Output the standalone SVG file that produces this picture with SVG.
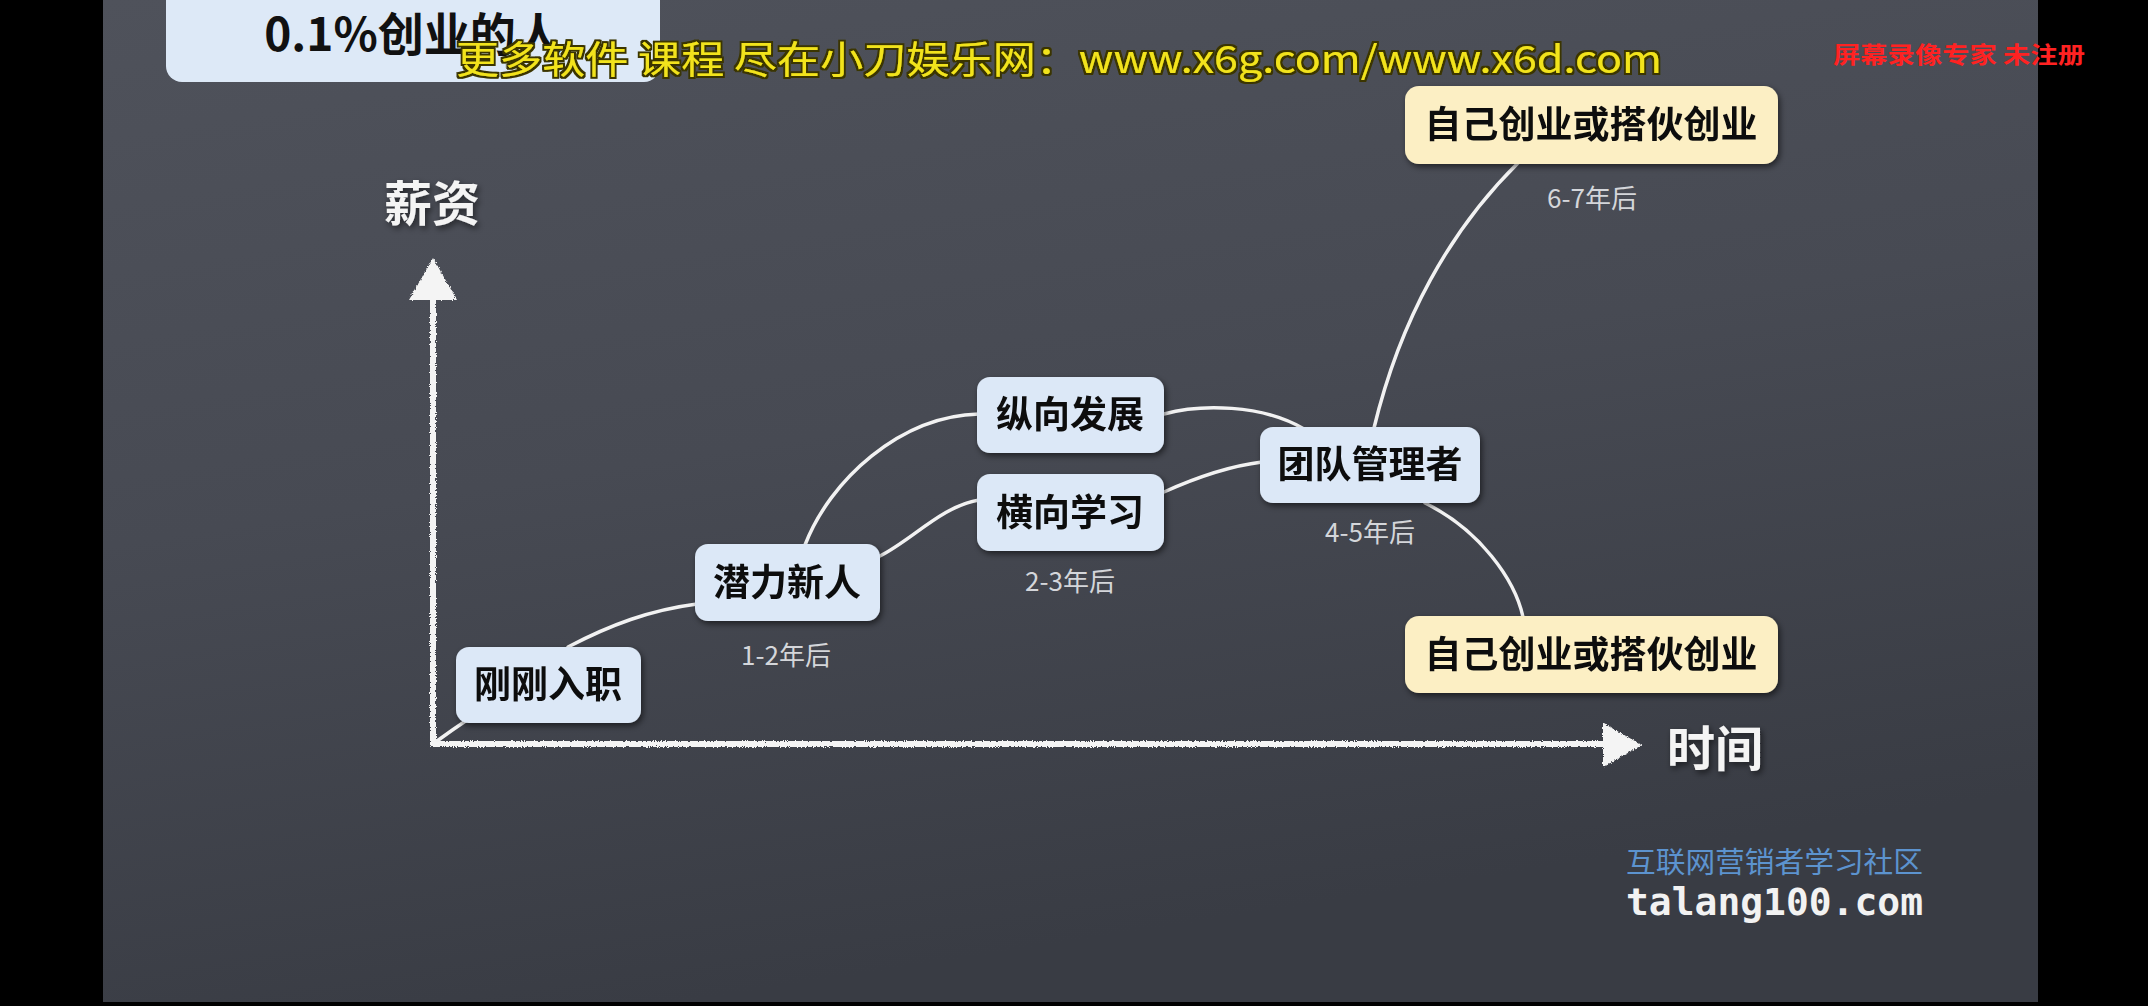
<svg xmlns="http://www.w3.org/2000/svg" width="2148" height="1006" viewBox="0 0 2148 1006">
  <defs>
    <linearGradient id="board" x1="0" y1="0" x2="0.3" y2="1">
      <stop offset="0" stop-color="#4f525b"/>
      <stop offset="0.5" stop-color="#474a53"/>
      <stop offset="1" stop-color="#393c44"/>
    </linearGradient>
    <filter id="chalk" x="-5%" y="-5%" width="110%" height="110%">
      <feTurbulence type="fractalNoise" baseFrequency="0.9" numOctaves="2" seed="3" result="n"/>
      <feDisplacementMap in="SourceGraphic" in2="n" scale="4" xChannelSelector="R" yChannelSelector="G"/>
    </filter>
    <filter id="shadow" x="-10%" y="-20%" width="130%" height="150%">
      <feDropShadow dx="2" dy="3" stdDeviation="3" flood-color="#000" flood-opacity="0.55"/>
    </filter>
    <filter id="wmk" x="-2%" y="-20%" width="104%" height="150%">
      <feMorphology in="SourceAlpha" operator="dilate" radius="1.5" result="d"/>
      <feFlood flood-color="#3a3400"/>
      <feComposite in2="d" operator="in" result="o"/>
      <feMerge><feMergeNode in="o"/><feMergeNode in="SourceGraphic"/></feMerge>
    </filter>
  </defs>
  <style>
    .cjk { font-family: "Noto Sans CJK SC", "Noto Sans", sans-serif; }
    .node rect { fill: #dce8f7; }
    .node.gold rect { fill: #fcefc4; }
    .node text { font-family: "Noto Sans CJK SC", "Noto Sans", sans-serif; font-size: 37px; font-weight: 700; fill: #111; text-anchor: middle; }
    .note { font-family: "Noto Sans CJK SC", "Noto Sans", sans-serif; font-size: 26px; fill: #d4d6da; text-anchor: middle; }
    .axislbl { font-family: "Noto Sans CJK SC", "Noto Sans", sans-serif; font-size: 48px; font-weight: 700; fill: #f4f4f4; }
    .conn path { fill: none; stroke: #f2f2f2; stroke-width: 3.5; stroke-linecap: round; }
    .axis { fill: none; stroke: #f4f4f4; stroke-width: 6; stroke-linecap: round; }
  </style>

  <rect x="0" y="0" width="2148" height="1006" fill="#000"/>
  <rect x="103" y="0" width="1935" height="1002" fill="url(#board)"/>

  <!-- title box -->
  <g id="title">
    <rect x="166" y="-20" width="494" height="102" rx="16" fill="#dde9f7"/>
    <text x="413" y="51" class="cjk" font-size="46" font-weight="700" fill="#111" text-anchor="middle">0.1%创业的人</text>
  </g>

  <!-- axes -->
  <g id="axes" filter="url(#chalk)">
    <path class="axis" d="M433,744 L433,292"/>
    <polygon points="433,258 409,300 457,300" fill="#f4f4f4"/>
    <path class="axis" d="M433,744 L1608,744"/>
    <polygon points="1642,745 1603,723 1603,767" fill="#f4f4f4"/>
  </g>
  <text x="384" y="221" class="axislbl" filter="url(#shadow)">薪资</text>
  <text x="1667" y="766" class="axislbl" filter="url(#shadow)">时间</text>

  <!-- connectors -->
  <g id="connectors" class="conn">
    <path d="M437,741 Q452,730 470,718"/>
    <path d="M568,647 C610,625 650,610 697,604"/>
    <path d="M805,545 C830,480 900,416 979,414"/>
    <path d="M880,556 C912,540 942,506 979,500"/>
    <path d="M1164,414 C1200,404 1262,404 1304,429"/>
    <path d="M1164,492 C1195,478 1230,466 1262,462"/>
    <path d="M1374,428 C1400,320 1450,230 1518,163"/>
    <path d="M1425,503 C1480,530 1515,580 1523,617"/>
  </g>

  <!-- nodes -->
  <g id="n-newhire" class="node" filter="url(#shadow)">
    <rect x="456" y="647" width="185" height="76" rx="13"/>
    <text x="548" y="698">刚刚入职</text>
  </g>
  <g id="n-potential" class="node" filter="url(#shadow)">
    <rect x="695" y="544" width="185" height="77" rx="13"/>
    <text x="787" y="596">潜力新人</text>
  </g>
  <text class="note" x="786" y="665">1-2年后</text>

  <g id="n-vertical" class="node" filter="url(#shadow)">
    <rect x="977" y="377" width="187" height="76" rx="13"/>
    <text x="1070" y="428">纵向发展</text>
  </g>
  <g id="n-horizontal" class="node" filter="url(#shadow)">
    <rect x="977" y="474" width="187" height="77" rx="13"/>
    <text x="1070" y="526">横向学习</text>
  </g>
  <text class="note" x="1070" y="591">2-3年后</text>

  <g id="n-manager" class="node" filter="url(#shadow)">
    <rect x="1260" y="427" width="220" height="76" rx="13"/>
    <text x="1370" y="478">团队管理者</text>
  </g>
  <text class="note" x="1370" y="542">4-5年后</text>

  <g id="n-startup-top" class="node gold" filter="url(#shadow)">
    <rect x="1405" y="86" width="373" height="78" rx="14"/>
    <text x="1591" y="138">自己创业或搭伙创业</text>
  </g>
  <text class="note" x="1592" y="208">6-7年后</text>

  <g id="n-startup-bottom" class="node gold" filter="url(#shadow)">
    <rect x="1405" y="616" width="373" height="77" rx="14"/>
    <text x="1591" y="668">自己创业或搭伙创业</text>
  </g>

  <!-- footer -->
  <text x="1626" y="873" class="cjk" font-size="29" fill="#5c93cf" textLength="297" lengthAdjust="spacingAndGlyphs">互联网营销者学习社区</text>
  <text x="1626" y="915" font-family="DejaVu Sans Mono, monospace" font-size="37" font-weight="700" fill="#f2f2f2" textLength="297" lengthAdjust="spacingAndGlyphs">talang100.com</text>

  <!-- overlay watermarks -->
  <text x="456" y="73" class="cjk" font-size="38" fill="#f2e31c" filter="url(#wmk)" textLength="1206" lengthAdjust="spacingAndGlyphs">更多软件 课程 尽在小刀娱乐网：www.x6g.com/www.x6d.com</text>
  <text x="1833" y="63" class="cjk" font-size="23" font-weight="700" fill="#ff2222" textLength="252" lengthAdjust="spacingAndGlyphs">屏幕录像专家 未注册</text>
</svg>
